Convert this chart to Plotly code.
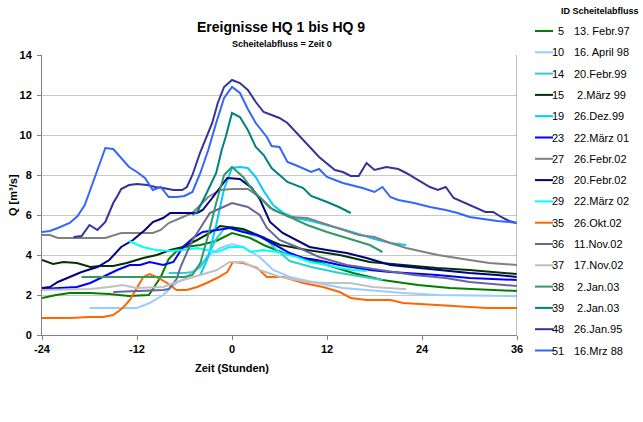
import plotly.graph_objects as go

# ---------------- data (hours relative to peak, Q in m3/s) ----------------
ids = ["5", "10", "14", "15", "19", "23", "27", "28", "29", "35", "36", "37", "38", "39", "48", "51"]
dates = ["13. Febr.97", "16. April 98", "20.Febr.99", " 2.März 99", "26.Dez.99", "22.März 01",
         "26.Febr.02", "20.Febr.02", "22.März 02", "26.Okt.02", "11.Nov.02", "17.Nov.02",
         " 2.Jan.03", " 2.Jan.03", "26.Jan.95", "16.Mrz 88"]
colors = ["#008000", "#99CCFF", "#33CCCC", "#003300", "#00CCFF", "#0000FF", "#808080", "#000080",
          "#00FFFF", "#FF6600", "#666699", "#C0C0C0", "#339966", "#008080", "#333399", "#3366FF"]

t5 = [-24, -22.2, -20.5, -18, -15.5, -13, -10.5, -10, -9, -8, -7, -6, -4, -2, -1, 0, 2.3, 4, 6.5, 9, 12, 15.3, 19, 23.5, 27.5, 30, 36]
q5 = [1.85, 2.0, 2.1, 2.1, 2.05, 1.95, 2.0, 2.3, 2.9, 3.8, 4.2, 4.4, 4.5, 4.7, 4.9, 5.1, 4.85, 4.5, 4.1, 3.85, 3.5, 3.1, 2.75, 2.5, 2.35, 2.3, 2.2]

t10 = [-18, -12, -10.4, -8.7, -7, -5.7, -4.4, -2.8, -1.5, 0, 1.4, 3.5, 4.8, 5.2, 7.3, 10.7, 14, 17, 21.6, 26, 36]
q10 = [1.35, 1.35, 1.6, 2.0, 2.6, 2.9, 3.35, 4.0, 4.35, 4.55, 4.4, 3.9, 3.4, 3.25, 2.9, 2.6, 2.35, 2.25, 2.1, 2.0, 1.95]

t14 = [-8, -6, -5, -4, -3, -2, -1, 0, 1, 2.5, 4, 5.5, 7.3, 10, 13.6, 17.8, 19]
q14 = [3.1, 3.1, 3.15, 3.4, 4.0, 4.8, 5.3, 5.4, 5.3, 5.0, 4.9, 4.3, 3.7, 3.4, 3.1, 2.8, 2.75]

t15 = [-24, -22.6, -21.3, -19.6, -17.9, -16.7, -15, -13.3, -11.2, -9.5, -7.8, -6.2, -4.4, -2.8, -1.5, -0.3, 1.4, 3.2, 6.1, 9.5, 13.6, 17.4, 21.6, 25.9, 30, 36]
q15 = [3.75, 3.55, 3.65, 3.6, 3.4, 3.45, 3.45, 3.6, 3.85, 4.0, 4.25, 4.4, 4.75, 5.1, 5.45, 5.4, 5.3, 5.0, 4.5, 4.25, 4.0, 3.65, 3.5, 3.35, 3.25, 3.05]

t19 = [-4, -3, -2, -1, 0, 1, 2, 3, 4, 5.2, 6.5, 8, 10, 12, 14.3, 16.4, 18, 20, 22]
q19 = [3.0, 3.9, 5.5, 7.3, 8.35, 8.4, 8.35, 7.9, 7.2, 6.5, 6.1, 5.85, 5.7, 5.5, 5.25, 5.0, 4.8, 4.6, 4.5]

t23 = [-24, -21.3, -19.6, -17.9, -16.3, -14.5, -12.9, -11.6, -10.4, -8.7, -7.4, -6.2, -4.9, -3.7, -1.9, -0.3, 1.4, 3.2, 4.8, 7.3, 9, 10.7, 13.6, 17.4, 20, 25.9, 30, 36]
q23 = [2.3, 2.35, 2.4, 2.6, 2.9, 3.25, 3.5, 3.5, 3.65, 3.5, 3.65, 4.4, 4.85, 5.15, 5.25, 5.35, 5.15, 5.0, 4.65, 4.1, 3.85, 3.75, 3.5, 3.25, 3.15, 3.0, 2.85, 2.75]

t27 = [-24, -23, -22, -16, -14, -10, -9, -8, -6.5, -5, -4, -3, -1.5, 0, 2, 3.5, 5.2, 7.3, 9.5, 11, 13.5, 16, 18, 20, 22, 26, 30, 32.5, 36]
q27 = [5.0, 5.0, 4.85, 4.85, 5.1, 5.1, 5.25, 5.6, 5.85, 6.1, 6.5, 6.9, 7.25, 7.3, 7.3, 6.9, 6.25, 5.9, 5.85, 5.65, 5.35, 5.0, 4.9, 4.6, 4.35, 4.0, 3.75, 3.6, 3.5]

t28 = [-24, -23, -22, -20.5, -19, -17, -15.5, -14, -12.5, -11, -10, -8.7, -7.8, -4.4, -3.7, -2.5, -1.5, -0.6, 1, 2.5, 3.5, 4.8, 6.4, 8.2, 9.8, 12, 14.5, 17, 20, 23.7, 25.9, 30, 33.5, 36]
q28 = [2.35, 2.4, 2.65, 2.9, 3.15, 3.4, 3.75, 4.4, 4.75, 5.25, 5.65, 5.85, 6.1, 6.1, 6.25, 6.85, 7.4, 7.85, 7.8, 7.35, 6.8, 5.65, 5.1, 4.75, 4.4, 4.25, 4.1, 3.85, 3.5, 3.35, 3.25, 3.1, 3.0, 2.9]

t29 = [-13, -11.3, -9.6, -7.8, -6.2, -4.4, -3.2, -1.9, -0.3, 1.4, 2.3, 3.9, 5.7, 8.2, 9.8, 12, 13.6, 15.3, 17]
q29 = [4.7, 4.4, 4.25, 4.2, 4.25, 4.35, 4.25, 4.15, 4.4, 4.4, 4.15, 4.25, 4.15, 3.9, 3.65, 3.5, 3.35, 3.25, 3.2]

t35 = [-24, -20.5, -18, -16.3, -15, -13.8, -12.9, -12, -11.2, -10.4, -9.3, -8.2, -7, -5.7, -4.4, -3.2, -1.9, -0.6, 0.1, 1.4, 3.2, 4.4, 6.5, 9, 11.5, 13.6, 15, 17, 20, 21.6, 25.9, 29.2, 32.2, 36]
q35 = [0.85, 0.85, 0.9, 0.9, 1.0, 1.35, 1.75, 2.4, 2.9, 3.05, 2.85, 2.6, 2.25, 2.25, 2.4, 2.6, 2.85, 3.15, 3.65, 3.6, 3.35, 2.9, 2.9, 2.6, 2.4, 2.15, 1.85, 1.75, 1.75, 1.6, 1.5, 1.4, 1.35, 1.35]

t36 = [-15, -12, -8.7, -8, -7, -6.5, -5.7, -5, -4.4, -2.8, -1.1, 0, 2, 3.5, 4.4, 6, 8.2, 11, 14.5, 18.7, 23, 27, 30, 36]
q36 = [2.15, 2.2, 2.25, 2.3, 2.8, 3.4, 4.1, 4.75, 5.1, 6.1, 6.4, 6.6, 6.4, 6.0, 5.35, 4.75, 4.4, 3.9, 3.5, 3.25, 3.0, 2.85, 2.65, 2.45]

t37 = [-24, -17.9, -15.5, -13.8, -12.1, -8.7, -7, -5.3, -3.7, -1.9, -0.3, 1.4, 3.5, 6.1, 9.5, 12, 14.9, 17.8, 21.6, 22]
q37 = [2.25, 2.3, 2.4, 2.5, 2.35, 2.4, 2.65, 2.85, 3.0, 3.25, 3.65, 3.65, 3.25, 2.9, 2.65, 2.6, 2.6, 2.4, 2.3, 2.3]

t38 = [-19, -6, -5, -4, -3, -2, -1, 0, 1.4, 2.7, 4.8, 7.3, 9.5, 12, 14.5, 17.4, 19]
q38 = [2.9, 2.9, 3.0, 3.6, 5.0, 6.6, 8.0, 8.4, 7.9, 7.2, 6.35, 5.9, 5.5, 5.15, 4.85, 4.5, 4.15]

t39 = [-5, -4.4, -3.2, -2, -1.3, -0.8, 0, 1, 2, 3, 4, 5, 6, 7, 9, 10, 12, 13.5, 15]
q39 = [6.0, 6.15, 7.1, 8.1, 9.25, 9.9, 11.1, 10.9, 10.25, 9.4, 9.0, 8.35, 8.0, 7.65, 7.35, 6.95, 6.65, 6.4, 6.1]

t48 = [-20, -19, -18, -17, -16, -15, -14.4, -14, -13, -12, -10.7, -9.7, -8.7, -7.4, -6.3, -5.7, -5, -4, -2.5, -1.8, -1, 0, 1, 2, 3, 4, 5, 6, 7, 9, 11, 13, 14, 15, 16, 17, 18, 19.5, 21, 22, 23.5, 25, 26, 27, 28, 30, 32, 33, 34, 35, 36]
q48 = [4.9, 4.95, 5.5, 5.25, 5.65, 6.6, 7.0, 7.3, 7.5, 7.55, 7.5, 7.4, 7.35, 7.25, 7.25, 7.4, 8.0, 9.15, 10.6, 11.6, 12.4, 12.75, 12.6, 12.25, 11.65, 11.15, 11.0, 10.85, 10.6, 9.75, 8.9, 8.25, 8.15, 7.95, 7.95, 8.6, 8.25, 8.4, 8.3, 8.1, 7.75, 7.4, 7.25, 7.4, 6.85, 6.5, 6.15, 6.15, 5.9, 5.7, 5.6]

t51 = [-24, -23, -22, -20.5, -19.5, -18.6, -18, -17.3, -16.7, -16, -15, -14, -13, -12, -11, -10, -9, -8, -7, -6, -5, -4, -3, -2, -1, 0, 1, 2, 3, 4.4, 5, 6, 7, 8, 10, 11, 12, 14, 16.5, 18, 19, 20, 21, 23, 25, 27, 28.5, 30, 31.5, 33.5, 35, 36]
q51 = [5.15, 5.2, 5.35, 5.6, 5.95, 6.5, 7.15, 7.9, 8.5, 9.35, 9.3, 8.85, 8.4, 8.15, 7.85, 7.25, 7.4, 6.9, 6.9, 6.95, 7.15, 8.1, 9.25, 10.6, 11.85, 12.4, 12.1, 11.3, 10.6, 9.9, 9.45, 9.4, 8.65, 8.5, 8.15, 8.3, 7.9, 7.6, 7.35, 7.15, 7.4, 6.9, 6.75, 6.6, 6.4, 6.25, 6.1, 5.9, 5.8, 5.7, 5.65, 5.6]

series_t = [t5, t10, t14, t15, t19, t23, t27, t28, t29, t35, t36, t37, t38, t39, t48, t51]
series_q = [q5, q10, q14, q15, q19, q23, q27, q28, q29, q35, q36, q37, q38, q39, q48, q51]

x_ticks = [-24, -12, 0, 12, 24, 36]
y_ticks = [0, 2, 4, 6, 8, 10, 12, 14]

FONT = "Arial, Liberation Sans, sans-serif"

# the page body margin is removed in post_script, so figure pixels == page pixels
W, H = 643, 422
PL, PR, PT, PB = 42, 517, 55, 335   # plot area in pixels


def fx(px):
    return (px - PL) / (PR - PL)


def fy(py):
    return (PB - py) / (PB - PT)


fig = go.Figure()
for i in range(len(ids)):
    fig.add_trace(go.Scatter(x=series_t[i], y=series_q[i], mode="lines",
                             line=dict(color=colors[i], width=2),
                             name=ids[i] + " " + dates[i], showlegend=False,
                             hoverinfo="skip"))

fig.update_layout(
    width=W, height=H,
    margin=dict(l=PL, r=W - PR, t=PT, b=H - PB, autoexpand=False),
    paper_bgcolor="white", plot_bgcolor="white",
    font=dict(family=FONT, color="black", size=11),
    xaxis=dict(range=[-24, 36], tickvals=x_ticks, ticktext=["<b>%d</b>" % v for v in x_ticks],
               showgrid=False, zeroline=False, showline=True, linecolor="#808080", linewidth=1,
               ticks="outside", ticklen=4, tickcolor="#808080", automargin=False),
    yaxis=dict(range=[0, 14], tickvals=y_ticks, ticktext=["<b>%d</b>" % v for v in y_ticks],
               showgrid=True, gridcolor="#C8C8C8", gridwidth=1, zeroline=False,
               showline=True, linecolor="#808080", linewidth=1,
               ticks="outside", ticklen=4, tickcolor="#808080", automargin=False,
               ticklabelstandoff=3),
)

# right border of plot area
fig.add_shape(type="line", xref="x", yref="paper", x0=36, x1=36, y0=0, y1=1,
              line=dict(color="#808080", width=1))

# titles
fig.add_annotation(xref="paper", yref="paper", x=fx(281), y=fy(27), text="<b>Ereignisse HQ 1 bis HQ 9</b>",
                   showarrow=False, xanchor="center", yanchor="middle",
                   font=dict(size=14, family=FONT, color="black"))
fig.add_annotation(xref="paper", yref="paper", x=fx(282), y=fy(44), text="<b>Scheitelabfluss = Zeit 0</b>",
                   showarrow=False, xanchor="center", yanchor="middle",
                   font=dict(size=9, family=FONT, color="black"))
fig.add_annotation(xref="paper", yref="paper", x=fx(232), y=fy(368), text="<b>Zeit (Stunden)</b>",
                   showarrow=False, xanchor="center", yanchor="middle",
                   font=dict(size=11, family=FONT, color="black"))
fig.add_annotation(xref="paper", yref="paper", x=fx(13), y=fy(195), text="<b>Q [m³/s]</b>",
                   showarrow=False, xanchor="center", yanchor="middle", textangle=-90,
                   font=dict(size=11, family=FONT, color="black"))

# legend
fig.add_annotation(xref="paper", yref="paper", x=fx(641), y=fy(11), text="<b>ID Scheitelabfluss</b>",
                   showarrow=False, xanchor="right", yanchor="middle",
                   font=dict(size=9, family=FONT, color="black"))
leg_top = 31
leg_step = 21.3
for i in range(len(ids)):
    ypx = leg_top + i * leg_step
    fig.add_shape(type="line", xref="paper", yref="paper",
                  x0=fx(535), x1=fx(553), y0=fy(ypx), y1=fy(ypx),
                  line=dict(color=colors[i], width=2))
    fig.add_annotation(xref="paper", yref="paper", x=fx(566), y=fy(ypx),
                       text=ids[i], showarrow=False, xanchor="right", yanchor="middle",
                       font=dict(size=11, family=FONT, color="black"))
    fig.add_annotation(xref="paper", yref="paper", x=fx(572), y=fy(ypx),
                       text=dates[i].replace(" ", "&nbsp;", 1) if dates[i].startswith(" ") else dates[i],
                       showarrow=False, xanchor="left", yanchor="middle",
                       font=dict(size=11, family=FONT, color="black"))

fig.write_html("out.html", config={"displayModeBar": False},
               post_script="document.body.style.margin='0px';")
